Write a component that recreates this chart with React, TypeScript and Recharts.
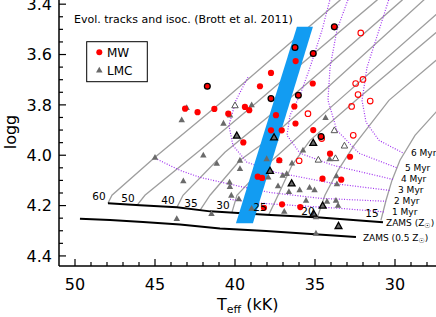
// HR-style Kiel diagram: Brott et al. (2011) tracks + isochrones with MW / LMC stars

import { ComposedChart, XAxis, YAxis, Scatter } from "recharts";

type Pt = [number, number]; // [Teff (kK), logg]

const FONT = "DejaVu Sans";
const RED = "#ff0000";
const TRI_GRAY = "#6a6a6a";
const TRACK_GRAY = "#9e9e9e";
const ISO_PURPLE = "#a030f0";
const BAND_BLUE = "#129cf2";

// axis ticks
const xMajorTicks = [50, 45, 40, 35, 30];
const xMinorTicks = [49, 48, 47, 46, 44, 43, 42, 41, 39, 38, 37, 36, 34, 33, 32, 31, 29, 28];
const yMajorTicks = [3.4, 3.6, 3.8, 4.0, 4.2, 4.4];
const yMinorTicks = [3.35, 3.45, 3.5, 3.55, 3.65, 3.7, 3.75, 3.85, 3.9, 3.95, 4.05, 4.1, 4.15, 4.25, 4.3, 4.35];

// evolutionary tracks, labelled by initial mass (Msun)
const trackMasses = ["60", "50", "40", "35", "30", "25", "20", "15"];
const track60: Pt[] = [[47.94, 4.191], [47.69, 4.159], [45.0, 4.008], [40.63, 3.778], [37.81, 3.623], [33.44, 3.384], [31.56, 3.285]];
const track50: Pt[] = [[46.13, 4.199], [45.63, 4.159], [42.19, 3.98], [38.63, 3.79], [35.94, 3.643], [31.13, 3.384], [29.38, 3.285]];
const track40: Pt[] = [[43.63, 4.207], [43.25, 4.159], [40.63, 3.988], [37.81, 3.841], [34.69, 3.67], [29.56, 3.384], [27.81, 3.285]];
const track35: Pt[] = [[42.19, 4.219], [41.56, 4.159], [39.69, 4.02], [37.81, 3.933], [34.06, 3.722], [27.19, 3.325], [26.0, 3.256]];
const track30: Pt[] = [[40.19, 4.227], [39.88, 4.159], [38.88, 4.092], [37.81, 4.028], [33.88, 3.802], [26.56, 3.392]];
const track25: Pt[] = [[37.88, 4.235], [37.31, 4.159], [36.44, 4.04], [35.31, 3.941], [32.44, 3.782], [25.94, 3.432]];
const track20: Pt[] = [[34.88, 4.251], [34.38, 4.159], [33.56, 4.06], [32.56, 3.961], [30.38, 3.782], [25.94, 3.543]];
const track15: Pt[] = [[30.88, 4.259], [30.56, 4.179], [30.19, 4.1], [29.69, 4.02], [28.75, 3.921], [27.44, 3.829], [25.31, 3.722]];
const tracks = [track60, track50, track40, track35, track30, track25, track20, track15];

// isochrones
const isoAges = ["1 Myr", "2 Myr", "3 Myr", "4 Myr", "5 Myr", "6 Myr"];
const iso1: Pt[] = [[40.31, 4.175], [38.75, 4.189], [35.94, 4.201], [33.44, 4.211], [30.69, 4.225]];
const iso2: Pt[] = [[45.0, 4.012], [43.44, 4.06], [42.19, 4.088], [39.69, 4.124], [37.81, 4.148], [34.69, 4.171], [30.56, 4.183]];
const iso3: Pt[] = [[39.19, 3.69], [39.94, 3.782], [40.38, 3.881], [40.13, 3.961], [39.25, 4.028], [37.44, 4.068], [33.88, 4.112], [30.31, 4.14]];
const iso4: Pt[] = [[33.75, 3.305], [34.56, 3.503], [35.31, 3.651], [35.94, 3.762], [36.56, 3.841], [36.75, 3.921], [35.94, 3.992], [33.88, 4.04], [30.13, 4.096]];
const iso5: Pt[] = [[32.5, 3.305], [33.63, 3.503], [34.06, 3.651], [34.19, 3.782], [33.63, 3.901], [32.25, 3.992], [29.88, 4.05]];
const iso6: Pt[] = [[30.0, 3.305], [31.06, 3.515], [31.75, 3.651], [32.06, 3.782], [31.81, 3.869], [31.0, 3.941], [29.5, 3.991]];
const isochrones = [iso1, iso2, iso3, iso4, iso5, iso6];

// zero-age main sequences
const zamsSun: Pt[] = [[47.94, 4.191], [45.94, 4.199], [43.63, 4.207], [41.56, 4.223], [38.06, 4.236], [34.69, 4.247], [30.75, 4.266]];
const zamsHalf: Pt[] = [[49.69, 4.252], [47.81, 4.257], [45.75, 4.265], [43.44, 4.275], [40.94, 4.291], [38.06, 4.301], [32.44, 4.325]];

// blue band (corners)
const band: Pt[] = [[36.13, 3.49], [35.13, 3.49], [38.88, 4.27], [39.94, 4.27]];

// Milky Way stars
const mwFilled: Pt[] = [
  [38.44, 3.726], [37.75, 3.673], [36.21, 3.626], [35.14, 3.715], [43.12, 3.815], [42.34, 3.829],
  [41.29, 3.816], [40.42, 3.835], [39.38, 3.808], [39.11, 3.821], [36.29, 3.806], [37.44, 3.841],
  [37.75, 3.901], [37.08, 3.901], [36.22, 3.874], [35.11, 3.9], [39.48, 3.949], [34.06, 3.994],
  [32.81, 4.006], [37.23, 4.02], [38.58, 4.085], [38.31, 4.09], [34.53, 4.093], [33.36, 4.097],
  [37.06, 4.195], [35.92, 4.206], [38.19, 4.209],
];
const mwRinged: Pt[] = [[41.73, 3.726], [33.79, 3.49], [36.25, 3.572], [35.11, 3.596], [37.75, 3.775], [36.04, 3.762], [34.62, 3.926]];
const mwOpen: Pt[] = [
  [32.14, 3.514], [32.46, 3.715], [32.0, 3.699], [32.31, 3.759], [32.71, 3.806],
  [31.55, 3.785], [35.44, 3.835], [32.61, 3.921], [34.58, 3.934], [35.99, 4.022],
];

// LMC stars
const lmcFilled: Pt[] = [
  [43.02, 3.811], [43.33, 3.86], [38.96, 3.8], [40.31, 3.841], [40.72, 3.873], [45.0, 4.009],
  [41.98, 4.0], [41.14, 4.032], [39.69, 4.02], [39.69, 4.053], [43.23, 4.102], [40.34, 4.107],
  [40.32, 4.125], [40.23, 4.159], [39.76, 4.173], [43.64, 4.252], [41.47, 4.232], [38.96, 4.211],
  [38.02, 4.014], [34.34, 3.851], [35.75, 3.98], [34.09, 4.014], [37.23, 4.02], [36.44, 4.031],
  [37.02, 4.08], [37.92, 4.087], [37.31, 4.122], [36.63, 4.145], [35.96, 4.138], [35.34, 4.128],
  [35.03, 4.138], [36.77, 4.073], [33.66, 4.082], [33.63, 4.114], [35.56, 4.179], [34.25, 4.183],
  [33.69, 4.179], [33.56, 4.199], [36.92, 4.223], [34.94, 4.245], [34.94, 4.31],
];
const lmcRinged: Pt[] = [[39.89, 3.922], [37.56, 3.929], [35.11, 3.951], [37.81, 4.062], [36.46, 4.112], [34.52, 4.2], [35.09, 4.232], [33.53, 4.281]];
const lmcOpen: Pt[] = [[40.0, 3.802], [33.79, 3.901], [33.16, 3.962], [34.79, 4.018], [33.72, 4.012]];

const X_LEFT = 51;
const Y_BOTTOM = 4.44;

const rows = (pts: Pt[]) => pts.map(([t, g]) => ({ t, g }));
const noDot = () => <g />;

const circle = (r: number, fill: string, stroke: string, sw: number) => (p: any) => (
  <circle cx={p.cx} cy={p.cy} r={r} fill={fill} stroke={stroke} strokeWidth={sw} />
);
const triangle = (s: number, fill: string, stroke: string, sw: number) => (p: any) => (
  <polygon
    points={`${p.cx},${p.cy - s} ${p.cx - s * 0.95},${p.cy + s * 0.7} ${p.cx + s * 0.95},${p.cy + s * 0.7}`}
    fill={fill}
    stroke={stroke}
    strokeWidth={sw}
  />
);

const xTick = (len: number) => (p: any) => (
  <line x1={p.cx} y1={p.cy} x2={p.cx} y2={p.cy - len} stroke="#000" strokeWidth={1.2} />
);
const yTick = (len: number) => (p: any) => (
  <line x1={p.cx} y1={p.cy} x2={p.cx + len} y2={p.cy} stroke="#000" strokeWidth={1.2} />
);

const trackLabelRows = tracks.map((tr, i) => ({ t: tr[0][0], g: tr[0][1], label: trackMasses[i] }));
const isoLabelRows = isochrones.map((iso, i) => ({ t: iso[iso.length - 1][0], g: iso[iso.length - 1][1], label: isoAges[i] }));
const zamsLabelRows = [
  { t: zamsSun[zamsSun.length - 1][0], g: zamsSun[zamsSun.length - 1][1], label: "" },
  { t: zamsHalf[zamsHalf.length - 1][0], g: zamsHalf[zamsHalf.length - 1][1], label: "0.5 " },
];

const TrackLabel = (p: any) => (
  <text x={p.cx - 9} y={p.cy - 7} textAnchor="middle" dominantBaseline="central" fontSize={10.5} fontFamily={FONT} fill="#000">
    {p.payload.label}
  </text>
);
const IsoLabel = (p: any) => (
  <text x={p.cx + 8} y={p.cy} dominantBaseline="central" fontSize={9} fontFamily={FONT} fill="#000">
    {p.payload.label}
  </text>
);
const ZamsLabel = (p: any) => (
  <text x={p.cx + (p.payload.label ? 7 : 3)} y={p.cy + 4} fontSize={9} fontFamily={FONT} fill="#000">
    ZAMS ({p.payload.label}Z
    <tspan fontSize={7} dy={2}>☉</tspan>
    <tspan dy={-2}>)</tspan>
  </text>
);

export default function App() {
  return (
    <div style={{ position: "absolute", left: 0, top: 0, width: 436, height: 317, overflow: "hidden", background: "#fff" }}>
      <div style={{ position: "absolute", left: 0, top: -21 }}>
        <ComposedChart width={470} height={340} margin={{ top: 0, right: 27, bottom: 0, left: 0 }}>
          <XAxis
            type="number"
            dataKey="t"
            domain={[27, X_LEFT]}
            reversed
            allowDataOverflow
            ticks={xMajorTicks}
            interval={0}
            tickLine={false}
            tickSize={0}
            tickMargin={13}
            height={53}
            axisLine={{ stroke: "#000", strokeWidth: 1.5 }}
            tick={{ fill: "#000", fontSize: 16, fontFamily: FONT }}
          />
          <YAxis
            type="number"
            dataKey="g"
            domain={[3.3, Y_BOTTOM]}
            reversed
            allowDataOverflow
            ticks={yMajorTicks}
            interval={0}
            tickLine={false}
            tickSize={0}
            tickMargin={7}
            width={59}
            tickFormatter={(v: number) => v.toFixed(1)}
            axisLine={{ stroke: "#000", strokeWidth: 1.5 }}
            tick={{ fill: "#000", fontSize: 16, fontFamily: FONT }}
          />

          {tracks.map((tr, i) => (
            <Scatter key={`tr${i}`} data={rows(tr)} line={{ stroke: TRACK_GRAY, strokeWidth: 1.3 }} shape={noDot} isAnimationActive={false} />
          ))}
          {isochrones.map((iso, i) => (
            <Scatter
              key={`iso${i}`}
              data={rows(iso)}
              line={{ stroke: ISO_PURPLE, strokeWidth: 1.2, strokeDasharray: "1 1.6" }}
              shape={noDot}
              isAnimationActive={false}
            />
          ))}
          <Scatter data={rows(zamsSun)} line={{ stroke: "#000", strokeWidth: 2 }} shape={noDot} isAnimationActive={false} />
          <Scatter data={rows(zamsHalf)} line={{ stroke: "#000", strokeWidth: 2 }} shape={noDot} isAnimationActive={false} />
          <Scatter data={rows([...band, band[0]])} line={{ stroke: "none", fill: BAND_BLUE }} shape={noDot} isAnimationActive={false} />

          <Scatter data={rows(lmcFilled)} shape={triangle(3.4, TRI_GRAY, "none", 0)} isAnimationActive={false} />
          <Scatter data={rows(lmcOpen)} shape={triangle(3.4, "#fff", "#555", 1)} isAnimationActive={false} />
          <Scatter data={rows(lmcRinged)} shape={triangle(3.6, TRI_GRAY, "#000", 1.3)} isAnimationActive={false} />
          <Scatter data={rows(mwFilled)} shape={circle(3.1, RED, "none", 0)} isAnimationActive={false} />
          <Scatter data={rows(mwOpen)} shape={circle(2.8, "none", RED, 1.1)} isAnimationActive={false} />
          <Scatter data={rows(mwRinged)} shape={circle(2.9, RED, "#000", 1.3)} isAnimationActive={false} />

          <Scatter data={trackLabelRows} shape={TrackLabel} isAnimationActive={false} />
          <Scatter data={isoLabelRows} shape={IsoLabel} isAnimationActive={false} />
          <Scatter data={zamsLabelRows} shape={ZamsLabel} isAnimationActive={false} />

          <Scatter data={xMajorTicks.map((t) => ({ t, g: Y_BOTTOM }))} shape={xTick(7)} isAnimationActive={false} />
          <Scatter data={xMinorTicks.map((t) => ({ t, g: Y_BOTTOM }))} shape={xTick(4)} isAnimationActive={false} />
          <Scatter data={yMajorTicks.map((g) => ({ t: X_LEFT, g }))} shape={yTick(7)} isAnimationActive={false} />
          <Scatter data={yMinorTicks.map((g) => ({ t: X_LEFT, g }))} shape={yTick(4)} isAnimationActive={false} />
        </ComposedChart>
      </div>

      <svg width={436} height={317} style={{ position: "absolute", left: 0, top: 0 }} fontFamily={FONT}>
        <text x={74} y={23} fontSize={11} fill="#000">
          Evol. tracks and isoc. (Brott et al. 2011)
        </text>
        <rect x={86.7} y={41.7} width={60.6} height={40} fill="#fff" stroke="#000" strokeWidth={1} />
        <circle cx={99.3} cy={52.3} r={3} fill={RED} />
        <text x={107} y={56.8} fontSize={12} fill="#000">MW</text>
        <polygon points="99.3,66.8 96,72.6 102.6,72.6" fill={TRI_GRAY} />
        <text x={107} y={74.7} fontSize={12} fill="#000">LMC</text>
        <text transform="translate(15.5,132) rotate(-90)" textAnchor="middle" fontSize={16} fill="#000">
          logg
        </text>
        <text x={217} y={309.5} fontSize={16} fill="#000">
          T<tspan fontSize={11} dy={3.5}>eff</tspan>
          <tspan dy={-3.5}> (kK)</tspan>
        </text>
      </svg>
    </div>
  );
}
